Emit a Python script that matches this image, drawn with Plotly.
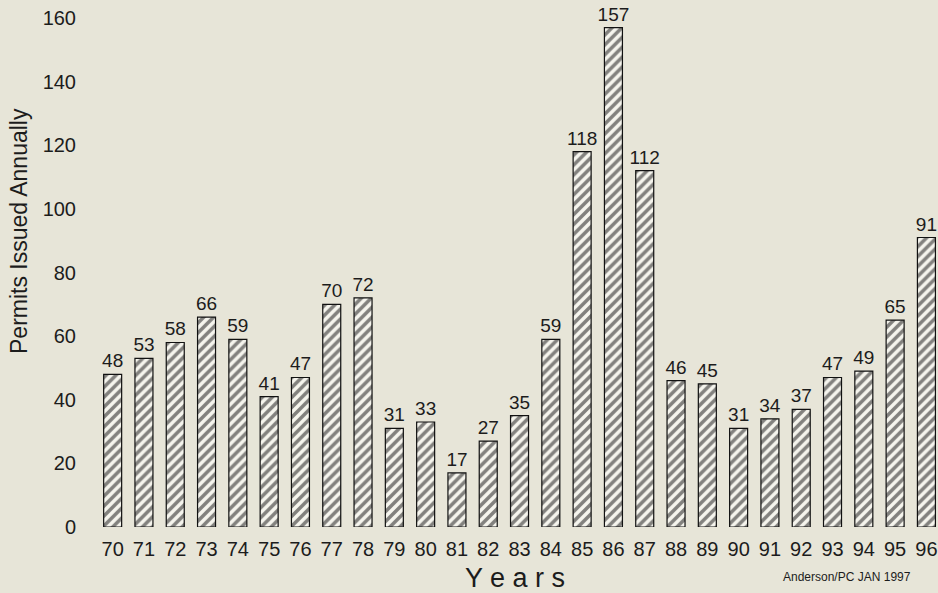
import plotly.graph_objects as go

# Permits issued each year, 1970-1996
years = ["70", "71", "72", "73", "74", "75", "76", "77", "78", "79", "80", "81", "82",
         "83", "84", "85", "86", "87", "88", "89", "90", "91", "92", "93", "94", "95", "96"]
permits = [48, 53, 58, 66, 59, 41, 47, 70, 72, 31, 33, 17, 27,
           35, 59, 118, 157, 112, 46, 45, 31, 34, 37, 47, 49, 65, 91]
y_ticks = [0, 20, 40, 60, 80, 100, 120, 140, 160]

paper = "#e7e5d8"
ink = "#1c1c1c"
font_family = "Liberation Sans, Arial, sans-serif"

fig = go.Figure(
    go.Bar(
        x=years,
        y=permits,
        text=[str(v) for v in permits],
        textposition="outside",
        constraintext="none",
        textfont=dict(size=19, color=ink, family=font_family),
        cliponaxis=False,
        marker=dict(
            color="#f6f5ee",
            line=dict(color="#111111", width=1.2),
            pattern=dict(shape="/", fgcolor="#0d0d0d", bgcolor="#f6f5ee",
                         size=7, solidity=0.5),
        ),
    )
)

fig.update_layout(
    width=938,
    height=593,
    margin=dict(l=97, r=0, t=18, b=66),
    paper_bgcolor=paper,
    plot_bgcolor=paper,
    bargap=0.425,
    showlegend=False,
    font=dict(family=font_family, color=ink),
    xaxis=dict(
        type="category",
        range=[-0.5, 26.37],
        showgrid=False,
        showline=False,
        zeroline=False,
        ticks="",
        tickfont=dict(size=20, color=ink),
        ticklabelstandoff=8,
    ),
    yaxis=dict(
        range=[0, 160],
        tickvals=y_ticks,
        showgrid=False,
        showline=False,
        zeroline=False,
        ticks="",
        tickfont=dict(size=20, color=ink),
        ticklabelstandoff=20,
    ),
)

# Free-standing labels, positioned in pixels relative to the plot area
plot_left, plot_right = 97, 938
plot_top, plot_bottom = 18, 527
pw = plot_right - plot_left
ph = plot_bottom - plot_top


def px_to_paper(px, py):
    return (px - plot_left) / pw, (plot_bottom - py) / ph


labels = [
    ("Permits Issued Annually", 19, 231, 23, -90),
    ("Y e a r s", 515, 578, 27, 0),
    ("Anderson/PC JAN 1997", 847, 577, 12, 0),
]
for text, px, py, size, angle in labels:
    ax, ay = px_to_paper(px, py)
    fig.add_annotation(text=text, x=ax, y=ay, xref="paper", yref="paper",
                       xanchor="center", yanchor="middle", textangle=angle,
                       showarrow=False, font=dict(size=size, color=ink))

fig.write_html("out.html")
